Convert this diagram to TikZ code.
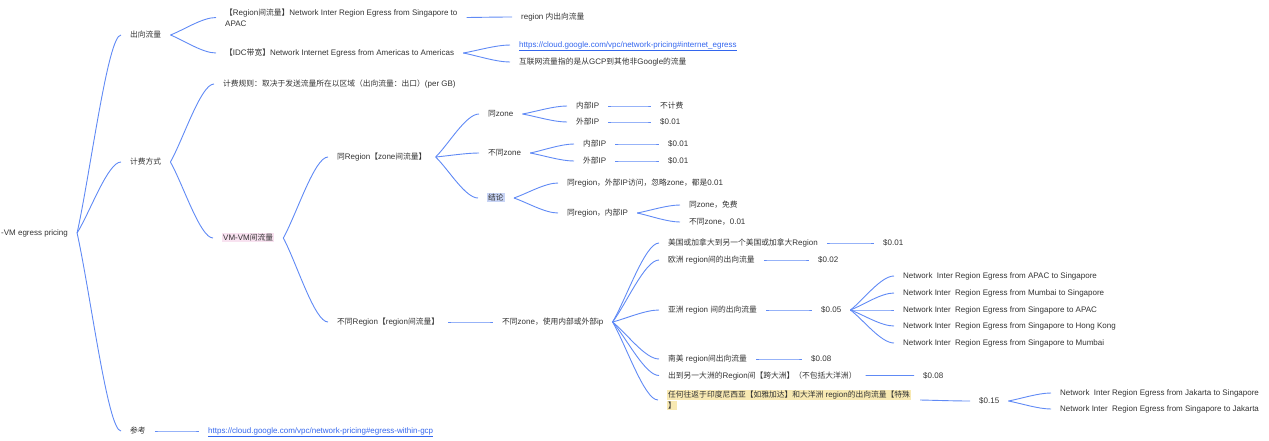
\documentclass[tikz,border=0pt]{standalone}
\usepackage{fontspec}
\usepackage{xcolor}
\usepackage{tikz}
\usetikzlibrary{positioning, calc}
\setmainfont{Liberation Sans}
\newfontfamily\zhfont{Noto Sans CJK SC}[Scale=0.97]
\definecolor{mapblue}{RGB}{96, 138, 245}
\definecolor{inkgray}{RGB}{51, 51, 51}
\definecolor{linkblue}{RGB}{51, 102, 238}
\definecolor{hlpink}{RGB}{248, 226, 240}
\definecolor{hlblue}{RGB}{200, 212, 245}
\definecolor{hlyellow}{RGB}{248, 233, 178}

\newcommand\zh[1]{{\zhfont #1}}
\newcommand\hl[2]{{\setlength\fboxsep{1pt}\colorbox{#1}{#2}}}
\newcommand\weblink[1]{\textcolor{linkblue}{\underline{#1}}}

% curved branch from the parent's right side to the child's left side
\newcommand\fork[2]{%
  \path ($(#1.east)+(7,0)$) coordinate (fs) ($(#2.west)-(7,0)$) coordinate (fe);
  \draw[conn] (fs) .. controls ($(fs)!0.3!(fe)$) and ($(fe)!0.3!(fe -| fs)$) .. (fe);}

\tikzset{
  topic/.style={anchor=west, inner xsep=2pt, inner ysep=1pt, text=inkgray,
    font=\fontsize{8}{11}\selectfont, align=left, text height=6.5pt, text depth=1.5pt},
  twoline/.style={text height=, text depth=},
  conn/.style={draw=mapblue, line width=0.9pt}
}

\begin{document}
\begin{tikzpicture}[x=1pt, y=-1pt]
    \useasboundingbox (0,0) rectangle (1269,440);

    % Root and first level
    \node[topic] (root) at (-1,233) {-VM egress pricing};
    \node[topic] (egress) at (128,35) {\zh{出向流量}};
    \node[topic] (billing) at (128,162) {\zh{计费方式}};
    \node[topic] (refs) at (128,431) {\zh{参考}};

    % Egress
    \node[topic, twoline] (interreg) at (223,17.5) {\zh{【}Region\zh{间流量】}Network Inter Region Egress from Singapore to\\APAC};
    \node[topic] (inregion) at (519,17) {region \zh{内出向流量}};
    \node[topic] (idc) at (223,53) {\zh{【}IDC\zh{带宽】}Network Internet Egress from Americas to Americas};
    \node[topic] (idcurl) at (517,45) {\weblink{https://cloud.google.com/vpc/network-pricing\#internet\_egress}};
    \node[topic] (idcnote) at (517,62) {\zh{互联网流量指的是从}GCP\zh{到其他非}Google\zh{的流量}};

    % Billing
    \node[topic] (rule) at (221,84) {\zh{计费规则：取决于发送流量所在以区域（出向流量：出口）}(per GB)};
    \node[topic] (vmvm) at (220,238) {\hl{hlpink}{VM-VM\zh{间流量}}};
    \node[topic] (samereg) at (335,157) {\zh{同}Region\zh{【}zone\zh{间流量】}};
    \node[topic] (diffreg) at (335,322) {\zh{不同}Region\zh{【}region\zh{间流量】}};

    % Same region
    \node[topic] (samez) at (486,114) {\zh{同}zone};
    \node[topic] (diffz) at (486,153) {\zh{不同}zone};
    \node[topic] (concl) at (485,198) {\hl{hlblue}{\zh{结论}}};
    \node[topic] (sz-in) at (574,106) {\zh{内部}IP};
    \node[topic] (sz-out) at (574,122) {\zh{外部}IP};
    \node[topic] (sz-in-v) at (658,106) {\zh{不计费}};
    \node[topic] (sz-out-v) at (658,122) {\$0.01};
    \node[topic] (dz-in) at (581,144) {\zh{内部}IP};
    \node[topic] (dz-out) at (581,161) {\zh{外部}IP};
    \node[topic] (dz-in-v) at (666,144) {\$0.01};
    \node[topic] (dz-out-v) at (666,161) {\$0.01};
    \node[topic] (cc-ext) at (565,183) {\zh{同}region\zh{，外部}IP\zh{访问，忽略}zone\zh{，都是}0.01};
    \node[topic] (cc-int) at (565,213) {\zh{同}region\zh{，内部}IP};
    \node[topic] (cc-sz) at (687,205) {\zh{同}zone\zh{，免费}};
    \node[topic] (cc-dz) at (687,222) {\zh{不同}zone\zh{，}0.01};

    % Different region
    \node[topic] (anyip) at (500,322) {\zh{不同}zone\zh{，使用内部或外部}ip};
    \node[topic] (us) at (666,243) {\zh{美国或加拿大到另一个美国或加拿大}Region};
    \node[topic] (us-v) at (881,243) {\$0.01};
    \node[topic] (eu) at (666,260) {\zh{欧洲} region\zh{间的出向流量}};
    \node[topic] (eu-v) at (816,260) {\$0.02};
    \node[topic] (asia) at (666,310) {\zh{亚洲} region \zh{间的出向流量}};
    \node[topic] (asia-v) at (819,310) {\$0.05};
    \node[topic] (sa) at (666,359) {\zh{南美} region\zh{间出向流量}};
    \node[topic] (sa-v) at (809,359) {\$0.08};
    \node[topic] (xc) at (666,375.5) {\zh{出到另一大洲的}Region\zh{间【跨大洲】（不包括大洋洲）}};
    \node[topic] (xc-v) at (921,375.5) {\$0.08};
    \node[topic, twoline] (idn) at (665,400) {\hl{hlyellow}{\zh{任何往返于印度尼西亚【如雅加达】和大洋洲} region\zh{的出向流量【特殊}}\\\hl{hlyellow}{\zh{】}}};
    \node[topic] (idn-v) at (977,401) {\$0.15};
    \node[topic] (asia-1) at (901,276) {Network\ \ Inter Region Egress from APAC to Singapore};
    \node[topic] (asia-2) at (901,293) {Network Inter\ \ Region Egress from Mumbai to Singapore};
    \node[topic] (asia-3) at (901,310) {Network Inter\ \ Region Egress from Singapore to APAC};
    \node[topic] (asia-4) at (901,326) {Network Inter\ \ Region Egress from Singapore to Hong Kong};
    \node[topic] (asia-5) at (901,343) {Network Inter\ \ Region Egress from Singapore to Mumbai};
    \node[topic] (idn-1) at (1058,393) {Network\ \ Inter Region Egress from Jakarta to Singapore};
    \node[topic] (idn-2) at (1058,409) {Network Inter\ \ Region Egress from Singapore to Jakarta};

    % Reference
    \node[topic] (refurl) at (206,431) {\weblink{https://cloud.google.com/vpc/network-pricing\#egress-within-gcp}};

    % Branches
    \fork{root}{egress} \fork{root}{billing} \fork{root}{refs}
    \fork{egress}{interreg} \fork{egress}{idc}
    \fork{interreg}{inregion}
    \fork{idc}{idcurl} \fork{idc}{idcnote}
    \fork{billing}{rule} \fork{billing}{vmvm}
    \fork{vmvm}{samereg} \fork{vmvm}{diffreg}
    \fork{samereg}{samez} \fork{samereg}{diffz} \fork{samereg}{concl}
    \fork{samez}{sz-in} \fork{samez}{sz-out}
    \fork{sz-in}{sz-in-v} \fork{sz-out}{sz-out-v}
    \fork{diffz}{dz-in} \fork{diffz}{dz-out}
    \fork{dz-in}{dz-in-v} \fork{dz-out}{dz-out-v}
    \fork{concl}{cc-ext} \fork{concl}{cc-int}
    \fork{cc-int}{cc-sz} \fork{cc-int}{cc-dz}
    \fork{diffreg}{anyip}
    \fork{anyip}{us} \fork{anyip}{eu} \fork{anyip}{asia} \fork{anyip}{sa}
    \fork{anyip}{xc} \fork{anyip}{idn}
    \fork{us}{us-v} \fork{eu}{eu-v} \fork{asia}{asia-v} \fork{sa}{sa-v}
    \fork{xc}{xc-v} \fork{idn}{idn-v}
    \fork{asia-v}{asia-1} \fork{asia-v}{asia-2} \fork{asia-v}{asia-3}
    \fork{asia-v}{asia-4} \fork{asia-v}{asia-5}
    \fork{idn-v}{idn-1} \fork{idn-v}{idn-2}
    \fork{refs}{refurl}
\end{tikzpicture}
\end{document}
